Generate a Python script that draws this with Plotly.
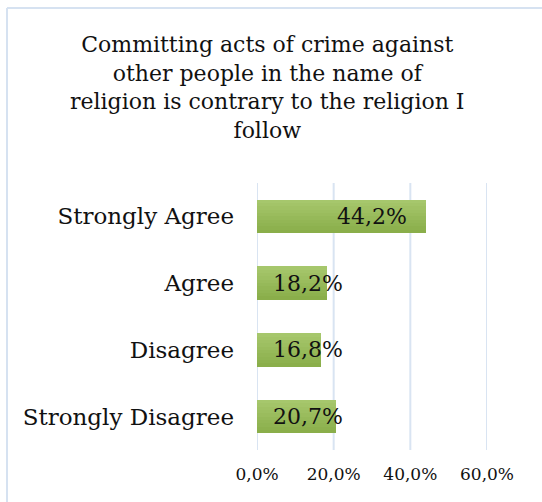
import plotly.graph_objects as go

# Survey responses
categories = ["Strongly Agree", "Agree", "Disagree", "Strongly Disagree"]
values = [44.2, 18.2, 16.8, 20.7]
value_labels = ["44,2%", "18,2%", "16,8%", "20,7%"]
tick_vals = [0, 20, 40, 60]
tick_labels = ["0,0%", "20,0%", "40,0%", "60,0%"]
title_text = ("Committing acts of crime against<br>other people in the name of<br>"
              "religion is contrary to the religion I<br>follow")

FONT = "DejaVu Serif"
W, H = 542, 502
L, R, T, B = 257, 55, 183, 52
plot_w = W - L - R
plot_h = H - T - B

ypos = list(range(len(categories)))
bar_w = 0.5

fig = go.Figure()

# pixel -> paper helpers for frame/title placement
px = lambda p: (p - L) / plot_w
py = lambda p: (H - B - p) / plot_h

# Vertical gridlines at each tick (including both range edges)
grid_col = "#d9e4f2"
for tv in tick_vals:
    fig.add_shape(type="line", xref="x", yref="paper", x0=tv, x1=tv, y0=0, y1=1,
                  line=dict(color=grid_col, width=2), layer="below")

# Vertical gradient on the bars, built from stacked strips (light top -> darker bottom)
top_rgb = (166, 199, 108)
bot_rgb = (138, 174, 74)
n_strips = 10
for k in range(n_strips):
    t = k / (n_strips - 1)
    col = tuple(round(a + (b - a) * t) for a, b in zip(top_rgb, bot_rgb))
    start = -bar_w / 2 + k * bar_w / n_strips
    fig.add_trace(go.Bar(
        x=values, y=ypos, orientation="h",
        base=0,
        offset=start, width=bar_w / 2 - start,
        marker=dict(color="rgb(%d,%d,%d)" % col, line=dict(width=0)),
        hoverinfo="skip", showlegend=False,
    ))

# Value labels: inside the end of long bars, near the base of short ones
for v, lab, y in zip(values, value_labels, ypos):
    if v > 30:
        fig.add_annotation(x=v, y=y, xref="x", yref="y", text=lab, showarrow=False,
                           xanchor="right", xshift=-17,
                           font=dict(family=FONT, size=22, color="#111111"))
    else:
        fig.add_annotation(x=0, y=y, xref="x", yref="y", text=lab, showarrow=False,
                           xanchor="left", xshift=14,
                           font=dict(family=FONT, size=22, color="#111111"))

# Chart title
fig.add_annotation(text=title_text, xref="paper", yref="paper",
                   x=px(267), y=py(87), xanchor="center", yanchor="middle",
                   showarrow=False, align="center",
                   font=dict(family=FONT, size=22, color="#111111"))

# Light border frame around the chart area
border = "#d6e2f1"
fig.add_shape(type="line", xref="paper", yref="paper", x0=px(7), x1=px(W + 5),
              y0=py(8), y1=py(8), line=dict(color=border, width=2))
fig.add_shape(type="line", xref="paper", yref="paper", x0=px(7), x1=px(7),
              y0=py(8), y1=py(H + 5), line=dict(color=border, width=2))

fig.update_layout(
    width=W, height=H,
    margin=dict(l=L, r=R, t=T, b=B),
    paper_bgcolor="white", plot_bgcolor="white",
    barmode="overlay", bargap=0,
    xaxis=dict(range=[0, 60], tickvals=tick_vals, ticktext=tick_labels,
               showgrid=False, zeroline=False, showline=False, ticks="",
               ticklabelstandoff=12,
               tickfont=dict(family=FONT, size=17, color="#111111")),
    yaxis=dict(range=[len(categories) - 0.5, -0.5], tickvals=ypos, ticktext=categories,
               showgrid=False, zeroline=False, showline=False, ticks="",
               ticklabelstandoff=22,
               tickfont=dict(family=FONT, size=23, color="#111111")),
)

fig.write_html("out.html")
